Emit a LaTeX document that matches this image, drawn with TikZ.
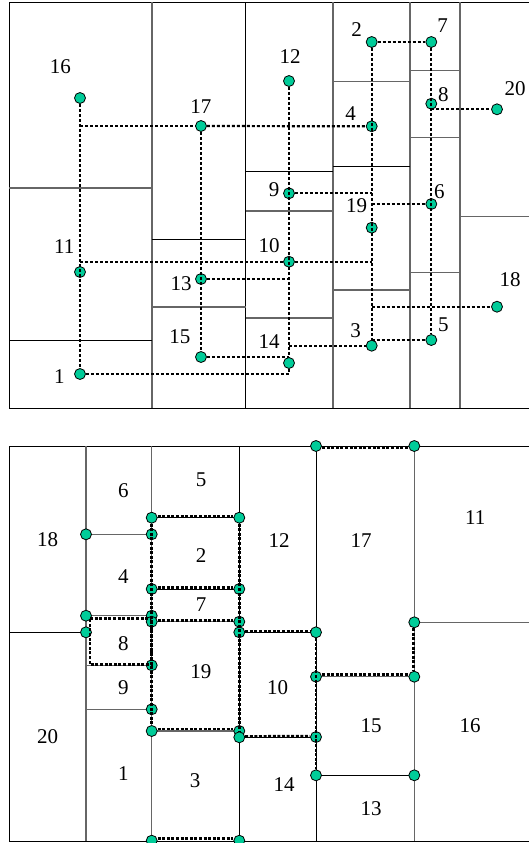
\documentclass[tikz,border=0pt]{standalone}
\usepackage{fontspec}
\setmainfont{Liberation Serif}
\definecolor{seagreen}{rgb}{0.0,0.8,0.6}

\begin{document}
\begin{tikzpicture}[x=0.5pt,y=-0.5pt,
    vtx/.style={circle,draw=black,fill=seagreen,inner sep=0pt,minimum size=5.5pt,line width=0.4pt},
    lbl/.style={inner sep=0pt,font=\fontsize{10.5}{12}\selectfont},
    wall/.style={black,line width=0.5pt},
    wallg/.style={black!60,line width=0.6pt},
    link/.style={black,line width=1.1pt,dash pattern=on 1.5pt off 1pt},
    linkb/.style={black,line width=1.4pt,dash pattern=on 1.5pt off 0.8pt}]
    \useasboundingbox (0,0) rectangle (529,843);

    % 1. Top plan: the rooms
    \draw[wall] (529,2) -- (9,2) -- (9,408) -- (529,408);
    \draw[wallg] (152,2) -- (152,408);
    \draw[wall] (245.7,2) -- (245.7,408);
    \draw[wallg] (333,2) -- (333,408);
    \draw[wallg] (410,2) -- (410,408);
    \draw[wallg] (460,2) -- (460,408);
    \draw[wallg] (9,188) -- (152,188);
    \draw[wall] (9,340) -- (152,340);
    \draw[wall] (152,239) -- (245.7,239);
    \draw[wallg] (152,307) -- (245.7,307);
    \draw[wall] (245.7,171.7) -- (333,171.7);
    \draw[wallg] (245.7,211) -- (333,211);
    \draw[wallg] (245.7,318) -- (333,318);
    \draw[wallg] (333,81.7) -- (410,81.7);
    \draw[wall] (333,166) -- (410,166);
    \draw[wallg] (333,290) -- (410,290);
    \draw[wallg] (410,70.3) -- (460,70.3);
    \draw[wallg] (410,137.7) -- (460,137.7);
    \draw[wallg] (410,272.7) -- (460,272.7);
    \draw[wallg] (460,216.3) -- (529,216.3);

    % 2. Top plan: one vertex per room
    \node[vtx] (t16) at (80,98) {};
    \node[vtx] (t17) at (201,126) {};
    \node[vtx] (t12) at (289,81) {};
    \node[vtx] (t2) at (371.7,42) {};
    \node[vtx] (t7) at (431.3,42) {};
    \node[vtx] (t8) at (431.3,103.7) {};
    \node[vtx] (t20) at (497,109.3) {};
    \node[vtx] (t4) at (371.7,126.3) {};
    \node[vtx] (t9) at (289,193.3) {};
    \node[vtx] (t6) at (431.3,204) {};
    \node[vtx] (t19) at (371.7,227.7) {};
    \node[vtx] (t10) at (289,261.7) {};
    \node[vtx] (t11) at (80,272) {};
    \node[vtx] (t13) at (201,279) {};
    \node[vtx] (t18) at (497,306.7) {};
    \node[vtx] (t5) at (431.3,340) {};
    \node[vtx] (t3) at (371.7,345.7) {};
    \node[vtx] (t14) at (289,363) {};
    \node[vtx] (t15) at (201,357) {};
    \node[vtx] (t1) at (80,374) {};

    % 3. Top plan: the tree
    \draw[link] (t16) -- (t1);
    \draw[link] (t16 |- t17) -- (t17);
    \draw[link] (t17) -- (t4);
    \draw[link] (t17) -- (t15);
    \draw[link] (t12) -- (t14);
    \draw[link] (t1) -| (t14);
    \draw[link] (t15) -- (t15 -| t14);
    \draw[link] (t13) -- (t13 -| t10);
    \draw[link] (t11 |- t10) -- (t10);
    \draw[link] (t10) -- (t10 -| t19);
    \draw[link] (t9) -- (t9 -| t4);
    \draw[link] (t2) -- (t7);
    \draw[link] (t2) -- (t3);
    \draw[link] (t7) -- (t5);
    \draw[link] (t8 |- t20) -- (t20);
    \draw[link] (t6 -| t19) -- (t6);
    \draw[link] (t18 -| t3) -- (t18);
    \draw[link] (t14 |- t3) -- (t3);
    \draw[link] (t3 |- t5) -- (t5);

    \node[lbl] (l16) at (60.3,66.7) {16};
    \node[lbl] (l17) at (201,106.7) {17};
    \node[lbl] (l12) at (290,56.7) {12};
    \node[lbl] (l2) at (356.7,29.3) {2};
    \node[lbl] (l7) at (442.7,26) {7};
    \node[lbl] (l8) at (443.3,95) {8};
    \node[lbl] (l20) at (515,88.3) {20};
    \node[lbl] (l4) at (350.7,113.3) {4};
    \node[lbl] (l9) at (274,190) {9};
    \node[lbl] (l6) at (439.3,191.7) {6};
    \node[lbl] (l19) at (356.7,206) {19};
    \node[lbl] (l11) at (64.3,246.7) {11};
    \node[lbl] (l10) at (269,245.7) {10};
    \node[lbl] (l13) at (181,284) {13};
    \node[lbl] (l18) at (510,280) {18};
    \node[lbl] (l15) at (180,336.7) {15};
    \node[lbl] (l14) at (269,341.7) {14};
    \node[lbl] (l3) at (355.7,330.7) {3};
    \node[lbl] (l5) at (443.3,325) {5};
    \node[lbl] (l1) at (59.3,376.7) {1};

    % 4. Bottom plan: the rooms
    \draw[wall] (529,446) -- (9,446) -- (9,841) -- (529,841);
    \draw[wallg] (86,446) -- (86,841);
    \draw[wallg] (151.7,446) -- (151.7,841);
    \draw[wall] (239.3,446) -- (239.3,841);
    \draw[wall] (316,446) -- (316,841);
    \draw[wallg] (414.3,446) -- (414.3,841);
    \draw[wallg] (86,534.3) -- (151.7,534.3);
    \draw[wall] (151.7,517.7) -- (239.3,517.7);
    \draw[wall] (151.7,589) -- (239.3,589);
    \draw[wallg] (86,615.7) -- (151.7,615.7);
    \draw[wallg] (151.7,621.7) -- (239.3,621.7);
    \draw[wall] (9,632.3) -- (86,632.3);
    \draw[wall] (239.3,632.3) -- (316,632.3);
    \draw[wallg] (86,665.3) -- (151.7,665.3);
    \draw[wallg] (86,709.3) -- (151.7,709.3);
    \draw[wallg] (151.7,731) -- (239.3,731);
    \draw[wall] (239.3,737) -- (316,737);
    \draw[wallg] (414.3,622.3) -- (529,622.3);
    \draw[wallg] (316,676.7) -- (414.3,676.7);
    \draw[wall] (316,775.3) -- (414.3,775.3);

    % 5. Bottom plan: corner vertices
    \node[vtx] (b1) at (151.7,517.7) {};
    \node[vtx] (b2) at (239.3,517.7) {};
    \node[vtx] (b3) at (86,534.3) {};
    \node[vtx] (b4) at (151.7,534.3) {};
    \node[vtx] (b5) at (151.7,589) {};
    \node[vtx] (b6) at (239.3,589) {};
    \node[vtx] (b7) at (86,615.7) {};
    \node[vtx] (b8) at (151.7,615.7) {};
    \node[vtx] (b9) at (151.7,621.7) {};
    \node[vtx] (b10) at (239.3,621.7) {};
    \node[vtx] (b11) at (86,632.3) {};
    \node[vtx] (b12) at (239.3,632.3) {};
    \node[vtx] (b13) at (151.7,665.3) {};
    \node[vtx] (b14) at (151.7,709.3) {};
    \node[vtx] (b15) at (151.7,731) {};
    \node[vtx] (b16) at (239.3,731) {};
    \node[vtx] (b17) at (239.3,737.3) {};
    \node[vtx] (b18) at (151.7,840.7) {};
    \node[vtx] (b19) at (239.3,840.7) {};
    \node[vtx] (b20) at (316,446) {};
    \node[vtx] (b21) at (414.3,446) {};
    \node[vtx] (b22) at (414.3,622.3) {};
    \node[vtx] (b23) at (316,632.3) {};
    \node[vtx] (b24) at (316,676.7) {};
    \node[vtx] (b25) at (414.3,676.7) {};
    \node[vtx] (b26) at (316,737) {};
    \node[vtx] (b27) at (316,775.3) {};
    \node[vtx] (b28) at (414.3,775.3) {};
    \coordinate (c8a) at (90,618.3);
    \coordinate (c8b) at (90,664.3);

    % 6. Bottom plan: the paths
    \draw[linkb,transform canvas={yshift=-0.8pt}] (b20) -- (b21);
    \draw[linkb,transform canvas={yshift=0.8pt}] (b1) -- (b2);
    \draw[linkb] (b1) -- (b15);
    \draw[linkb] (b2) -- (b17);
    \draw[linkb,transform canvas={yshift=0.6pt}] (b5) -- (b6);
    \draw[linkb,transform canvas={yshift=0.6pt}] (b9) -- (b10);
    \draw[linkb] (c8a) -- (c8a -| b8) -- (c8b -| b8) -- (c8b) -- cycle;
    \draw[linkb,transform canvas={yshift=1pt}] (b15) -- (b16);
    \draw[linkb,transform canvas={yshift=0.4pt}] (b12) -- (b23);
    \draw[linkb,transform canvas={yshift=0.4pt}] (b17) -- (b26);
    \draw[linkb] (b23) -- (b27);
    \draw[linkb,transform canvas={yshift=1pt}] (b24) -- (b25);
    \draw[linkb,transform canvas={xshift=-0.5pt}] (b22) -- (b25);
    \draw[linkb,transform canvas={yshift=1pt}] (b18) -- (b19);

    \node[lbl] (r6) at (123.3,491) {6};
    \node[lbl] (r5) at (201,479.3) {5};
    \node[lbl] (r18) at (47.7,540) {18};
    \node[lbl] (r2) at (201,556) {2};
    \node[lbl] (r4) at (123.3,577) {4};
    \node[lbl] (r7) at (201,605) {7};
    \node[lbl] (r8) at (123.3,644) {8};
    \node[lbl] (r19) at (201,671.7) {19};
    \node[lbl] (r9) at (123.3,687.3) {9};
    \node[lbl] (r20) at (47.7,736.7) {20};
    \node[lbl] (r1) at (123.3,774) {1};
    \node[lbl] (r3) at (195,780.7) {3};
    \node[lbl] (r12) at (279,541) {12};
    \node[lbl] (r17) at (361,541) {17};
    \node[lbl] (r11) at (475.3,517.3) {11};
    \node[lbl] (r10) at (277.7,687.3) {10};
    \node[lbl] (r15) at (371,725.7) {15};
    \node[lbl] (r16) at (470,725.7) {16};
    \node[lbl] (r14) at (284,785) {14};
    \node[lbl] (r13) at (371,808.3) {13};
\end{tikzpicture}
\end{document}
